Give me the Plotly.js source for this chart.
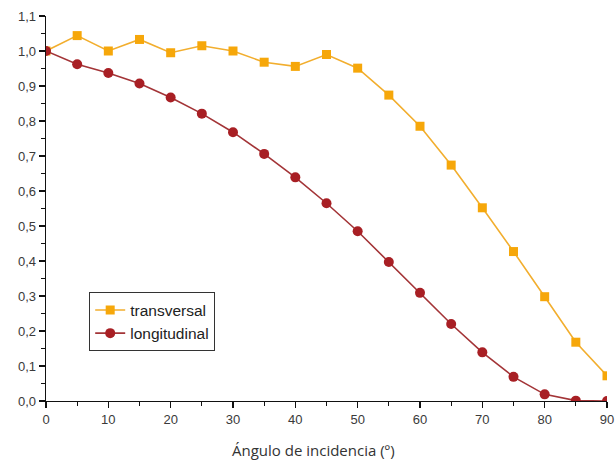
<!DOCTYPE html>
<html>
<head>
<meta charset="utf-8">
<script src="https://cdn.plot.ly/plotly-3.0.1.min.js"></script>
<style>
  html, body { margin: 0; padding: 0; background: #fff; }
  #chart { width: 615px; height: 464px; }
</style>
</head>
<body>
<div id="chart"></div>
<script>
// Incidence angle (degrees)
const angles = [0, 5, 10, 15, 20, 25, 30, 35, 40, 45, 50, 55, 60, 65, 70, 75, 80, 85, 90];

// Normalised response, transverse orientation
const transversal = [1.0, 1.044, 1.0, 1.033, 0.995, 1.015, 1.0, 0.968, 0.956, 0.99, 0.951,
                     0.874, 0.785, 0.674, 0.552, 0.427, 0.298, 0.168, 0.072];

// Normalised response, longitudinal orientation
const longitudinal = [1.0, 0.962, 0.937, 0.907, 0.867, 0.821, 0.768, 0.706, 0.639, 0.565, 0.485,
                      0.397, 0.309, 0.22, 0.139, 0.069, 0.019, 0.001, 0.0];

const seriesNames = ['transversal', 'longitudinal'];
const xTickVals = [0, 10, 20, 30, 40, 50, 60, 70, 80, 90];
const yTickVals = [0, 0.1, 0.2, 0.3, 0.4, 0.5, 0.6, 0.7, 0.8, 0.9, 1.0, 1.1];
const xTitle = 'Ángulo de incidencia (º)';

const traces = [
  {
    x: angles, y: transversal, name: seriesNames[0],
    type: 'scatter', mode: 'lines+markers',
    line: { color: '#F2AE2E', width: 1.6 },
    marker: { symbol: 'square', size: 9, color: '#F6A70A' }
  },
  {
    x: angles, y: longitudinal, name: seriesNames[1],
    type: 'scatter', mode: 'lines+markers',
    line: { color: '#A33437', width: 1.6 },
    marker: { symbol: 'circle', size: 10, color: '#A81F24' }
  }
];

const tickFont = { family: 'Liberation Sans, Arial, sans-serif', size: 13, color: '#3a3a3a' };

const layout = {
  width: 615, height: 464,
  margin: { l: 46, r: 8, t: 16, b: 63 },
  paper_bgcolor: '#fff', plot_bgcolor: '#fff',
  separators: ',.',
  showlegend: true,
  legend: {
    x: 0.077, y: 0.282, xanchor: 'left', yanchor: 'top',
    bgcolor: '#fff', bordercolor: '#333', borderwidth: 1,
    font: { family: 'Liberation Sans, Arial, sans-serif', size: 15.5, color: '#222' },
    tracegroupgap: 0, itemwidth: 30
  },
  xaxis: {
    range: [0, 90], tickvals: xTickVals, ticktext: xTickVals.map(String),
    showgrid: false, zeroline: false,
    showline: true, linecolor: '#111', linewidth: 1.3,
    ticks: 'outside', ticklen: 6, tickwidth: 1.2, tickcolor: '#111',
    minor: { dtick: 5, ticks: 'outside', ticklen: 4, tickwidth: 1, tickcolor: '#111', showgrid: false },
    tickfont: tickFont
  },
  yaxis: {
    range: [0, 1.1], tickvals: yTickVals, tickformat: '.1f',
    showgrid: false, zeroline: false,
    showline: true, linecolor: '#111', linewidth: 1.3,
    ticks: 'outside', ticklen: 6, tickwidth: 1.2, tickcolor: '#111',
    minor: { dtick: 0.05, ticks: 'outside', ticklen: 4, tickwidth: 1, tickcolor: '#111', showgrid: false },
    tickfont: tickFont
  },
  annotations: [{
    // horizontal axis title, set a little left of the axis centre
    text: xTitle, xref: 'paper', yref: 'paper',
    x: 0.476, y: -0.128, xanchor: 'center', yanchor: 'middle',
    showarrow: false,
    font: { family: 'Open Sans, Noto Sans, sans-serif', size: 15, color: '#333' }
  }]
};

Plotly.newPlot('chart', traces, layout, { staticPlot: true, displayModeBar: false });
</script>
</body>
</html>
